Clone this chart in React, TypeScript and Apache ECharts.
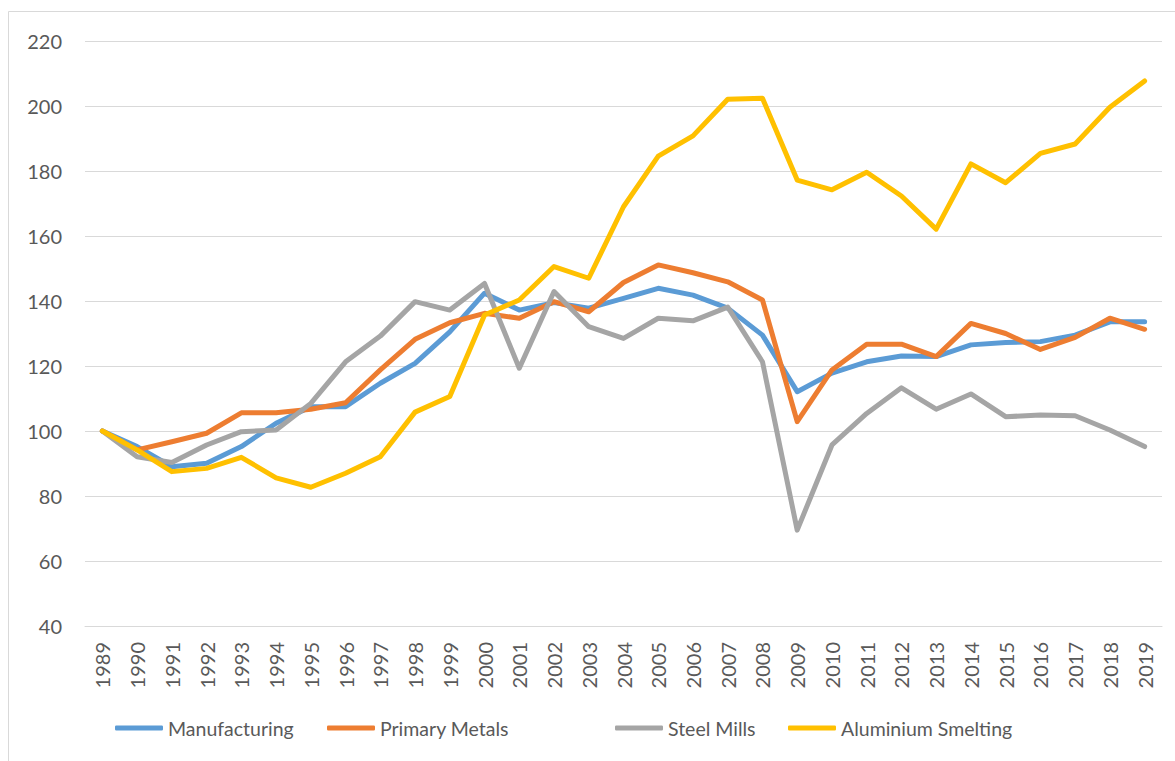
import React, { useEffect, useRef } from "react";
import * as echarts from "echarts";

const years = [
  "1989", "1990", "1991", "1992", "1993", "1994", "1995", "1996", "1997", "1998",
  "1999", "2000", "2001", "2002", "2003", "2004", "2005", "2006", "2007", "2008",
  "2009", "2010", "2011", "2012", "2013", "2014", "2015", "2016", "2017", "2018", "2019",
];

const manufacturing = [
  100, 95.2, 89, 90.1, 95.2, 102.4, 107.5, 107.5, 114.7, 120.8,
  130.5, 142.4, 137.2, 139.5, 137.8, 140.8, 143.9, 141.8, 137.8, 129.5,
  112.1, 117.8, 121.3, 123.1, 122.9, 126.5, 127.2, 127.5, 129.5, 133.6, 133.6,
];

const primaryMetals = [
  100, 94.2, 96.7, 99.3, 105.6, 105.6, 106.7, 108.7, 118.8, 128.2,
  133.3, 136.2, 134.7, 139.8, 136.7, 145.7, 151.1, 148.7, 145.9, 140.3,
  102.9, 118.8, 126.7, 126.7, 122.9, 133.1, 130, 125.1, 128.8, 134.7, 131.3,
];

const steelMills = [
  100, 92.1, 90.3, 95.7, 99.8, 100.3, 108.5, 121.3, 129.2, 139.8,
  137.2, 145.4, 119.3, 142.9, 132.1, 128.5, 134.7, 133.9, 138.1, 121.3,
  69.5, 95.7, 105.4, 113.3, 106.7, 111.4, 104.4, 104.9, 104.7, 100.3, 95.2,
];

const aluminiumSmelting = [
  100, 94.2, 87.5, 88.5, 91.9, 85.6, 82.7, 87, 92.1, 105.8,
  110.6, 135.7, 140.3, 150.6, 147, 169, 184.6, 190.8, 202.1, 202.4,
  177.2, 174.2, 179.6, 172.3, 162.1, 182.2, 176.4, 185.4, 188.3, 199.6, 207.7,
];

const seriesNames = ["Manufacturing", "Primary Metals", "Steel Mills", "Aluminium Smelting"];
const seriesColors = ["#5B9BD5", "#ED7D31", "#A5A5A5", "#FFC000"];
const seriesData = [manufacturing, primaryMetals, steelMills, aluminiumSmelting];
const legendLefts = [115, 327, 615, 788];

const FONT = "Lato";
const TEXT = "#595959";
const GRID = "#D9D9D9";

export default function App() {
  const ref = useRef<HTMLDivElement>(null);

  useEffect(() => {
    if (!ref.current) return;
    const chart = echarts.init(ref.current, undefined, { renderer: "svg" });
    chart.setOption({
      animation: false,
      backgroundColor: "#ffffff",
      graphic: [
        {
          type: "rect",
          shape: { x: 8.5, y: 11.5, width: 1180, height: 770 },
          style: { fill: "none", stroke: GRID, lineWidth: 1 },
          silent: true,
        },
      ],
      grid: { left: 85, right: 13, top: 41, bottom: 135, containLabel: false },
      legend: seriesNames.map((n, i) => ({
        data: [n],
        left: legendLefts[i],
        top: 718,
        icon: "roundRect",
        itemWidth: 48,
        itemHeight: 5,
        padding: 0,
        selectedMode: false,
        textStyle: { color: TEXT, fontFamily: FONT, fontSize: 19.5 },
      })),
      xAxis: {
        type: "category",
        data: years,
        boundaryGap: true,
        axisLine: { show: true, lineStyle: { color: GRID, width: 1 } },
        axisTick: { show: false },
        axisLabel: {
          rotate: 90,
          interval: 0,
          margin: 16,
          color: TEXT,
          fontFamily: FONT,
          fontSize: 20,
        },
      },
      yAxis: {
        type: "value",
        min: 40,
        max: 220,
        interval: 20,
        axisLine: { show: false },
        axisTick: { show: false },
        axisLabel: { margin: 23, color: TEXT, fontFamily: FONT, fontSize: 20 },
        splitLine: { lineStyle: { color: GRID, width: 1 } },
      },
      series: seriesNames.map((n, i) => ({
        name: n,
        type: "line",
        data: seriesData[i],
        showSymbol: false,
        symbol: "none",
        color: seriesColors[i],
        lineStyle: { color: seriesColors[i], width: 5, cap: "round", join: "round" },
      })),
    });
    return () => chart.dispose();
  }, []);

  return (
    <div
      ref={ref}
      style={{ position: "fixed", left: 0, top: 0, width: 1175, height: 761 }}
    />
  );
}
